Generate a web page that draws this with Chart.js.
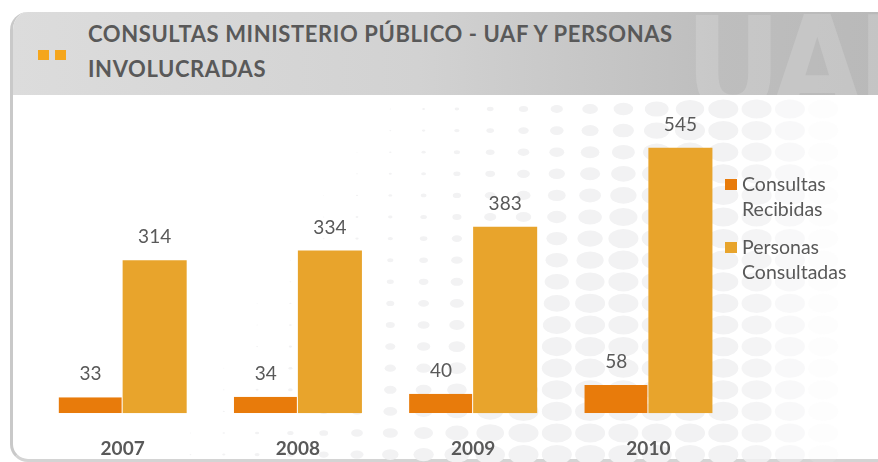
<!DOCTYPE html>
<html>
<head>
<meta charset="utf-8">
<script src="https://cdn.jsdelivr.net/npm/chart.js@4.4.1/dist/chart.umd.min.js"></script>
<style>
  html, body { margin: 0; padding: 0; background: #fff; }
  #wrap { position: relative; width: 878px; height: 462px; overflow: hidden; font-family: Lato, "Open Sans", sans-serif; }
  #panel { position: absolute; left: 10px; top: 12px; width: 900px; height: 447px;
    border-left: 3px solid #c9c9c9; border-bottom: 3px solid #d4d4d4; border-radius: 18px; background: #fff; overflow: hidden; }
  #header { position: absolute; left: 0; top: 0; width: 100%; height: 83px;
    background: linear-gradient(to right, #dcdcdc 0%, #d2d2d2 45%, #bebebe 78%, #b8b8b8 100%); overflow: hidden; }
  #uaf { position: absolute; left: 672px; top: -24px; font-size: 132px; font-weight: 900; letter-spacing: -6px;
    color: rgba(255,255,255,0.16); font-family: "Liberation Sans Narrow", "DejaVu Sans Condensed", sans-serif; }
  #title { position: absolute; left: 75px; top: 4px; font-size: 22px; letter-spacing: 0.6px; font-weight: 700; color: #595959; line-height: 35px; }
  .sq { position: absolute; top: 38px; width: 11px; height: 10px; background: #f5a61c; }
  #dots { position: absolute; left: 0; top: 0; }
  #chart { position: absolute; left: 0; top: 0; }
  #legend { position: absolute; left: 725px; top: 172px; font-size: 19.5px; color: #595959; line-height: 24.5px; }
  .item { position: relative; padding-left: 17px; margin-bottom: 14px; }
  .item i { position: absolute; left: 0; top: 7px; width: 12px; height: 11px; }
</style>
</head>
<body>
<div id="wrap">
  <div id="panel">
    <div id="header">
      <div id="uaf">UAF</div>
      <div class="sq" style="left:25px"></div>
      <div class="sq" style="left:42px"></div>
      <div id="title">CONSULTAS MINISTERIO PÚBLICO - UAF Y PERSONAS<br>INVOLUCRADAS</div>
    </div>
  </div>
  <canvas id="dots" width="878" height="462"></canvas>
  <canvas id="chart" width="878" height="486"></canvas>
  <div id="legend"></div>
</div>
<script>
var years = ['2007', '2008', '2009', '2010'];
var consultasRecibidas = [33, 34, 40, 58];
var personasConsultadas = [314, 334, 383, 545];
var seriesNames = [['Consultas', 'Recibidas'], ['Personas', 'Consultadas']];
var seriesColors = ['#e87b0b', '#e8a42c'];

// background dot pattern (decoration)
var dctx = document.getElementById('dots').getContext('2d');
for (var row = 0; row < 18; row++) {
  var y = 109 + row * 21.6;
  for (var col = 0; col < 26; col++) {
    var x = 24 + col * 33.3;
    var t = (x - 300 + 0.6 * (y - 110)) / 400;
    if (t <= 0) continue;
    var w = Math.min(30, 30 * t * t);
    var a = 1;
    if (x > 740) a = Math.max(0, 1 - (x - 740) / 100);
    if (w < 1 || a <= 0) continue;
    dctx.fillStyle = 'rgba(242,242,243,' + a + ')';
    dctx.beginPath();
    dctx.ellipse(x, y, w / 2, w * 0.32, 0, 0, Math.PI * 2);
    dctx.fill();
  }
}

var valueLabels = {
  id: 'valueLabels',
  afterDatasetsDraw: function(chart) {
    var ctx = chart.ctx;
    ctx.save();
    ctx.font = '19px Lato, "Open Sans", sans-serif';
    ctx.fillStyle = '#595959';
    ctx.textAlign = 'center';
    ctx.textBaseline = 'middle';
    chart.data.datasets.forEach(function(ds, i) {
      chart.getDatasetMeta(i).data.forEach(function(bar, j) {
        ctx.fillText(ds.data[j], bar.x, bar.y - 23);
      });
    });
    ctx.restore();
  }
};

var chart = new Chart(document.getElementById('chart').getContext('2d'), {
  type: 'bar',
  data: {
    labels: years,
    datasets: [{
      label: seriesNames[0].join(' '),
      data: consultasRecibidas,
      backgroundColor: seriesColors[0],
      borderColor: 'rgba(255,255,255,0.35)',
      borderWidth: { right: 1 },
      borderSkipped: false
    }, {
      label: seriesNames[1].join(' '),
      data: personasConsultadas,
      backgroundColor: seriesColors[1],
      borderWidth: 0
    }]
  },
  options: {
    responsive: false,
    animation: false,
    datasets: { bar: { categoryPercentage: 0.731, barPercentage: 1 } },
    layout: { padding: { left: 35, right: 142, top: 121, bottom: 2 } },
    plugins: { legend: { display: false }, tooltip: { enabled: false } },
    scales: {
      y: { display: false, min: 0, max: 600 },
      x: {
        grid: { display: false, drawTicks: false },
        border: { display: false },
        ticks: { color: '#595959', padding: 24, font: { family: 'Lato, "Open Sans", sans-serif', size: 19, weight: 'bold' } }
      }
    }
  },
  plugins: [valueLabels]
});

var legend = document.getElementById('legend');
seriesNames.forEach(function(name, i) {
  var div = document.createElement('div');
  div.className = 'item';
  div.innerHTML = '<i style="background:' + seriesColors[i] + '"></i>' + name.join('<br>');
  legend.appendChild(div);
});
</script>
</body>
</html>
